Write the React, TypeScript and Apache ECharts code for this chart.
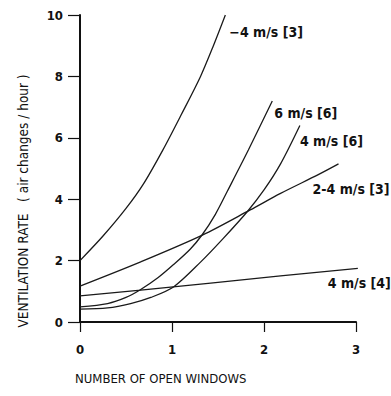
import React, { useEffect, useRef } from "react";
import * as echarts from "echarts";

const xTicks = [0, 1, 2, 3];
const yTicks = [0, 2, 4, 6, 8, 10];

const seriesNames = ["−4 m/s [3]", "6 m/s [6]", "4 m/s [6]", "2-4 m/s [3]", "4 m/s [4]"];

const curveMinus4_3: [number, number][] = [
  [0, 2.0], [0.25, 2.8], [0.5, 3.7], [0.69, 4.5], [0.9, 5.6], [1.1, 6.75], [1.31, 8.0], [1.45, 9.0], [1.58, 10.0],
];
const curve6_6: [number, number][] = [
  [0, 0.49], [0.3, 0.6], [0.5, 0.8], [0.66, 1.06], [0.85, 1.45], [1.02, 1.88], [1.2, 2.38], [1.33, 2.85], [1.47, 3.5], [1.6, 4.25], [1.83, 5.6], [2.09, 7.2],
];
const curve4_6: [number, number][] = [
  [0, 0.42], [0.3, 0.46], [0.55, 0.6], [0.77, 0.8], [1.02, 1.15], [1.31, 1.95], [1.55, 2.7], [1.82, 3.6], [2.0, 4.3], [2.18, 5.15], [2.39, 6.4],
];
const curve2to4_3: [number, number][] = [
  [0, 1.17], [0.66, 1.96], [1.33, 2.83], [1.85, 3.65], [2.18, 4.19], [2.59, 4.8], [2.81, 5.15],
];
const curve4_4: [number, number][] = [
  [0, 0.85], [0.66, 1.04], [2.18, 1.5], [3.02, 1.75],
];

const curves = [curveMinus4_3, curve6_6, curve4_6, curve2to4_3, curve4_4];
const labelOffsets: [number, number][] = [[4, 17], [2, 12], [0, 15], [-26, 25], [-30, 15]];

const FONT = "'Liberation Sans Narrow', 'DejaVu Sans Condensed', 'Open Sans', sans-serif";

export default function App() {
  const ref = useRef<HTMLDivElement>(null);
  useEffect(() => {
    if (!ref.current) return;
    const chart = echarts.init(ref.current, undefined, { renderer: "svg" });
    chart.setOption({
      animation: false,
      backgroundColor: "#ffffff",
      grid: { left: 80, right: 35, top: 15, bottom: 74 },
      xAxis: {
        type: "value",
        min: 0,
        max: 3,
        interval: 1,
        axisLine: { show: true, lineStyle: { color: "#111", width: 2 } },
        axisTick: { show: true, inside: false, length: 10, lineStyle: { color: "#111", width: 1.2 } },
        axisLabel: {
          margin: 21,
          color: "#111",
          fontFamily: FONT,
          fontSize: 13,
          fontWeight: "bold",
          formatter: (v: number) => (xTicks.includes(v) ? String(v) : ""),
        },
        splitLine: { show: false },
      },
      yAxis: {
        type: "value",
        min: 0,
        max: 10,
        interval: 2,
        axisLine: { show: true, lineStyle: { color: "#111", width: 2 } },
        axisTick: { show: true, inside: false, length: 12, lineStyle: { color: "#111", width: 1.2 } },
        axisLabel: {
          margin: 17,
          color: "#111",
          fontFamily: FONT,
          fontSize: 13,
          fontWeight: "bold",
          formatter: (v: number) => (yTicks.includes(v) ? String(v) : ""),
        },
        splitLine: { show: false },
      },
      graphic: [
        {
          type: "text",
          left: 75,
          top: 372,
          style: { text: "NUMBER OF OPEN WINDOWS", fill: "#111", font: `13px ${FONT}` },
        },
        {
          type: "text",
          x: 23,
          y: 201,
          rotation: Math.PI / 2,
          style: {
            text: "VENTILATION RATE   ( air changes / hour )",
            fill: "#111",
            font: `13.5px ${FONT}`,
            align: "center",
            verticalAlign: "middle",
          },
        },
      ],
      series: curves.map((d, i) => ({
        type: "line",
        name: seriesNames[i],
        data: d,
        smooth: 0.3,
        showSymbol: false,
        lineStyle: { color: "#1a1a1a", width: 1.3 },
        endLabel: {
          show: true,
          formatter: seriesNames[i],
          color: "#111",
          fontFamily: FONT,
          fontSize: 14,
          fontWeight: "bold",
          distance: 0,
          offset: labelOffsets[i],
          align: "left",
          verticalAlign: "middle",
        },
      })),
    });
    return () => chart.dispose();
  }, []);
  return (
    <div
      ref={ref}
      style={{ position: "fixed", left: 0, top: 0, width: 391, height: 396, background: "#fff" }}
    />
  );
}
